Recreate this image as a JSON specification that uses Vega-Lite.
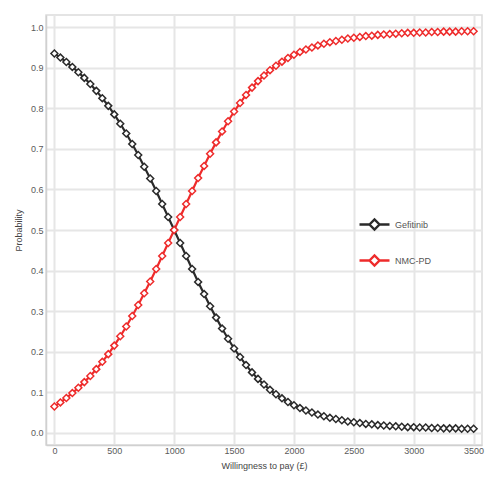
{
  "$schema": "https://vega.github.io/schema/vega-lite/v6.json",
  "width": 436,
  "height": 430,
  "autosize": {"type": "none"},
  "padding": {"left": 46, "top": 15, "right": 18, "bottom": 55},
  "background": "white",
  "config": {
    "font": "Liberation Sans",
    "view": {"stroke": "#dcdcdc", "strokeWidth": 1.5},
    "axis": {
      "gridColor": "#e6e6e6",
      "gridWidth": 2,
      "domainColor": "#d0d0d0",
      "domainWidth": 1.5,
      "tickSize": 0,
      "labelColor": "#5a5a5a",
      "labelFontSize": 9,
      "titleColor": "#444444",
      "titleFontSize": 9,
      "titleFontWeight": "normal"
    }
  },
  "data": {
    "values": [
      {"s":"Gefitinib","w":0,"p":0.935},{"s":"Gefitinib","w":50,"p":0.925},{"s":"Gefitinib","w":100,"p":0.914},{"s":"Gefitinib","w":150,"p":0.902},{"s":"Gefitinib","w":200,"p":0.889},{"s":"Gefitinib","w":250,"p":0.875},{"s":"Gefitinib","w":300,"p":0.86},{"s":"Gefitinib","w":350,"p":0.843},{"s":"Gefitinib","w":400,"p":0.825},{"s":"Gefitinib","w":450,"p":0.806},{"s":"Gefitinib","w":500,"p":0.785},{"s":"Gefitinib","w":550,"p":0.762},{"s":"Gefitinib","w":600,"p":0.738},{"s":"Gefitinib","w":650,"p":0.712},{"s":"Gefitinib","w":700,"p":0.685},{"s":"Gefitinib","w":750,"p":0.656},{"s":"Gefitinib","w":800,"p":0.627},{"s":"Gefitinib","w":850,"p":0.596},{"s":"Gefitinib","w":900,"p":0.564},{"s":"Gefitinib","w":950,"p":0.532},{"s":"Gefitinib","w":1000,"p":0.5},{"s":"Gefitinib","w":1050,"p":0.468},{"s":"Gefitinib","w":1100,"p":0.436},{"s":"Gefitinib","w":1150,"p":0.404},{"s":"Gefitinib","w":1200,"p":0.372},{"s":"Gefitinib","w":1250,"p":0.342},{"s":"Gefitinib","w":1300,"p":0.312},{"s":"Gefitinib","w":1350,"p":0.284},{"s":"Gefitinib","w":1400,"p":0.257},{"s":"Gefitinib","w":1450,"p":0.232},{"s":"Gefitinib","w":1500,"p":0.208},{"s":"Gefitinib","w":1550,"p":0.187},{"s":"Gefitinib","w":1600,"p":0.167},{"s":"Gefitinib","w":1650,"p":0.149},{"s":"Gefitinib","w":1700,"p":0.133},{"s":"Gefitinib","w":1750,"p":0.119},{"s":"Gefitinib","w":1800,"p":0.106},{"s":"Gefitinib","w":1850,"p":0.095},{"s":"Gefitinib","w":1900,"p":0.085},{"s":"Gefitinib","w":1950,"p":0.076},{"s":"Gefitinib","w":2000,"p":0.068},{"s":"Gefitinib","w":2050,"p":0.061},{"s":"Gefitinib","w":2100,"p":0.055},{"s":"Gefitinib","w":2150,"p":0.05},{"s":"Gefitinib","w":2200,"p":0.045},{"s":"Gefitinib","w":2250,"p":0.041},{"s":"Gefitinib","w":2300,"p":0.037},{"s":"Gefitinib","w":2350,"p":0.034},{"s":"Gefitinib","w":2400,"p":0.031},{"s":"Gefitinib","w":2450,"p":0.028},{"s":"Gefitinib","w":2500,"p":0.026},{"s":"Gefitinib","w":2550,"p":0.024},{"s":"Gefitinib","w":2600,"p":0.022},{"s":"Gefitinib","w":2650,"p":0.021},{"s":"Gefitinib","w":2700,"p":0.019},{"s":"Gefitinib","w":2750,"p":0.018},{"s":"Gefitinib","w":2800,"p":0.017},{"s":"Gefitinib","w":2850,"p":0.016},{"s":"Gefitinib","w":2900,"p":0.015},{"s":"Gefitinib","w":2950,"p":0.014},{"s":"Gefitinib","w":3000,"p":0.014},{"s":"Gefitinib","w":3050,"p":0.013},{"s":"Gefitinib","w":3100,"p":0.013},{"s":"Gefitinib","w":3150,"p":0.012},{"s":"Gefitinib","w":3200,"p":0.012},{"s":"Gefitinib","w":3250,"p":0.011},{"s":"Gefitinib","w":3300,"p":0.011},{"s":"Gefitinib","w":3350,"p":0.011},{"s":"Gefitinib","w":3400,"p":0.01},{"s":"Gefitinib","w":3450,"p":0.01},{"s":"Gefitinib","w":3500,"p":0.01},
      {"s":"NMC-PD","w":0,"p":0.065},{"s":"NMC-PD","w":50,"p":0.075},{"s":"NMC-PD","w":100,"p":0.086},{"s":"NMC-PD","w":150,"p":0.098},{"s":"NMC-PD","w":200,"p":0.111},{"s":"NMC-PD","w":250,"p":0.125},{"s":"NMC-PD","w":300,"p":0.14},{"s":"NMC-PD","w":350,"p":0.157},{"s":"NMC-PD","w":400,"p":0.175},{"s":"NMC-PD","w":450,"p":0.194},{"s":"NMC-PD","w":500,"p":0.215},{"s":"NMC-PD","w":550,"p":0.238},{"s":"NMC-PD","w":600,"p":0.262},{"s":"NMC-PD","w":650,"p":0.288},{"s":"NMC-PD","w":700,"p":0.315},{"s":"NMC-PD","w":750,"p":0.344},{"s":"NMC-PD","w":800,"p":0.373},{"s":"NMC-PD","w":850,"p":0.404},{"s":"NMC-PD","w":900,"p":0.436},{"s":"NMC-PD","w":950,"p":0.468},{"s":"NMC-PD","w":1000,"p":0.5},{"s":"NMC-PD","w":1050,"p":0.532},{"s":"NMC-PD","w":1100,"p":0.564},{"s":"NMC-PD","w":1150,"p":0.596},{"s":"NMC-PD","w":1200,"p":0.628},{"s":"NMC-PD","w":1250,"p":0.658},{"s":"NMC-PD","w":1300,"p":0.688},{"s":"NMC-PD","w":1350,"p":0.716},{"s":"NMC-PD","w":1400,"p":0.743},{"s":"NMC-PD","w":1450,"p":0.768},{"s":"NMC-PD","w":1500,"p":0.792},{"s":"NMC-PD","w":1550,"p":0.813},{"s":"NMC-PD","w":1600,"p":0.833},{"s":"NMC-PD","w":1650,"p":0.851},{"s":"NMC-PD","w":1700,"p":0.867},{"s":"NMC-PD","w":1750,"p":0.881},{"s":"NMC-PD","w":1800,"p":0.894},{"s":"NMC-PD","w":1850,"p":0.905},{"s":"NMC-PD","w":1900,"p":0.915},{"s":"NMC-PD","w":1950,"p":0.924},{"s":"NMC-PD","w":2000,"p":0.932},{"s":"NMC-PD","w":2050,"p":0.939},{"s":"NMC-PD","w":2100,"p":0.945},{"s":"NMC-PD","w":2150,"p":0.95},{"s":"NMC-PD","w":2200,"p":0.955},{"s":"NMC-PD","w":2250,"p":0.959},{"s":"NMC-PD","w":2300,"p":0.963},{"s":"NMC-PD","w":2350,"p":0.966},{"s":"NMC-PD","w":2400,"p":0.969},{"s":"NMC-PD","w":2450,"p":0.972},{"s":"NMC-PD","w":2500,"p":0.974},{"s":"NMC-PD","w":2550,"p":0.976},{"s":"NMC-PD","w":2600,"p":0.978},{"s":"NMC-PD","w":2650,"p":0.979},{"s":"NMC-PD","w":2700,"p":0.981},{"s":"NMC-PD","w":2750,"p":0.982},{"s":"NMC-PD","w":2800,"p":0.983},{"s":"NMC-PD","w":2850,"p":0.984},{"s":"NMC-PD","w":2900,"p":0.985},{"s":"NMC-PD","w":2950,"p":0.986},{"s":"NMC-PD","w":3000,"p":0.986},{"s":"NMC-PD","w":3050,"p":0.987},{"s":"NMC-PD","w":3100,"p":0.987},{"s":"NMC-PD","w":3150,"p":0.988},{"s":"NMC-PD","w":3200,"p":0.988},{"s":"NMC-PD","w":3250,"p":0.989},{"s":"NMC-PD","w":3300,"p":0.989},{"s":"NMC-PD","w":3350,"p":0.989},{"s":"NMC-PD","w":3400,"p":0.99},{"s":"NMC-PD","w":3450,"p":0.99},{"s":"NMC-PD","w":3500,"p":0.99}
    ]
  },
  "encoding": {
    "x": {
      "field": "w", "type": "quantitative",
      "scale": {"domain": [-70, 3570], "nice": false, "zero": false},
      "axis": {"values": [0, 500, 1000, 1500, 2000, 2500, 3000, 3500], "format": "d", "title": "Willingness to pay (£)", "labelPadding": 1, "titlePadding": 6}
    },
    "y": {
      "field": "p", "type": "quantitative",
      "scale": {"domain": [-0.03, 1.03], "nice": false, "zero": false},
      "axis": {"values": [0, 0.1, 0.2, 0.3, 0.4, 0.5, 0.6, 0.7, 0.8, 0.9, 1], "format": ".1f", "title": "Probability", "labelPadding": 3, "titlePadding": 7}
    },
    "color": {
      "field": "s", "type": "nominal",
      "scale": {"domain": ["Gefitinib", "NMC-PD"], "range": ["#2a2a2a", "#ee2b2b"]},
      "legend": {
        "title": null,
        "orient": "none",
        "legendX": 317,
        "legendY": 198,
        "padding": 0,
        "symbolType": "M-1.5,0H-0.5M0.5,0H1.5M-0.5,0L0,-0.5L0.5,0L0,0.5Z",
        "symbolSize": 400,
        "symbolStrokeWidth": 2.4,
        "symbolFillColor": "white",
        "labelOffset": 9,
        "labelFontSize": 9,
        "labelColor": "#555555",
        "rowPadding": 14
      }
    }
  },
  "layer": [
    {"mark": {"type": "line", "strokeWidth": 2.2}},
    {"mark": {"type": "point", "shape": "diamond", "filled": false, "fill": "white", "size": 48, "strokeWidth": 1.5, "opacity": 1}}
  ]
}
